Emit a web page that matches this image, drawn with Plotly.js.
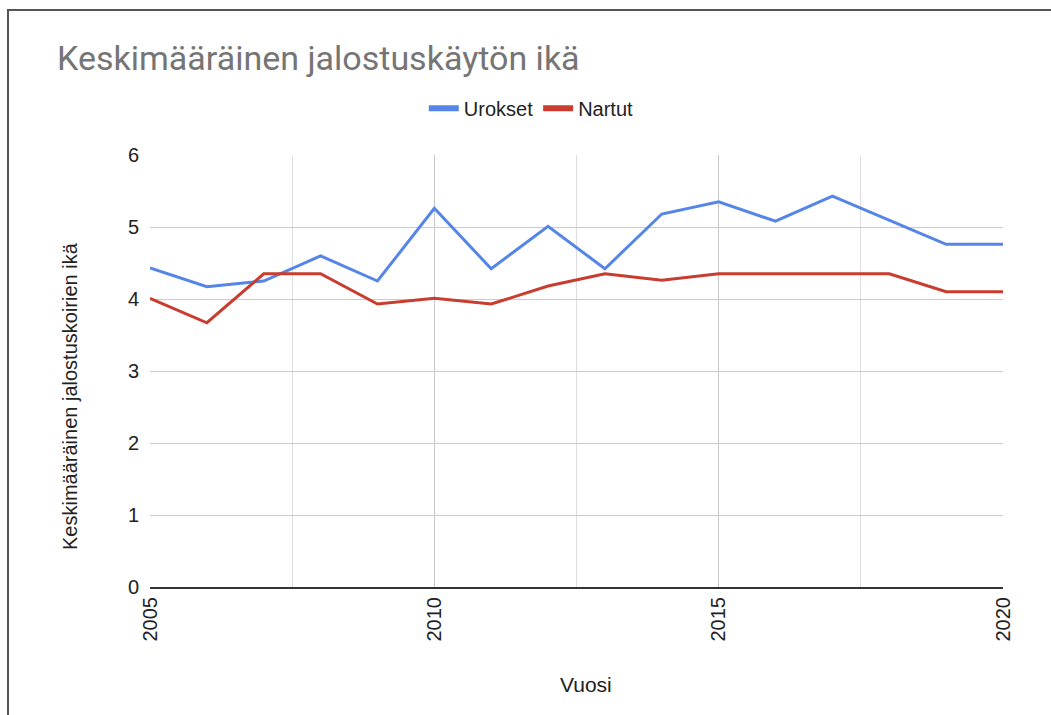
<!DOCTYPE html>
<html>
<head>
<meta charset="utf-8">
<script src="https://cdn.plot.ly/plotly-3.0.1.min.js"></script>
<style>
html,body{margin:0;padding:0;background:#fff;}
#frame{position:absolute;left:7px;top:9px;width:1044px;height:706px;border-left:2px solid #555;border-top:2px solid #555;box-sizing:border-box;}
#chart{position:absolute;left:0;top:0;width:1051px;height:715px;}
</style>
</head>
<body>
<div id="frame"></div>
<div id="chart"></div>
<script>
const years = [2005,2006,2007,2008,2009,2010,2011,2012,2013,2014,2015,2016,2017,2018,2019,2020];
const urokset = [4.43,4.17,4.25,4.6,4.25,5.26,4.42,5.01,4.42,5.18,5.35,5.08,5.43,5.1,4.76,4.76];
const nartut = [4.01,3.67,4.35,4.35,3.93,4.01,3.93,4.18,4.35,4.26,4.35,4.35,4.35,4.35,4.1,4.1];
const seriesNames = ['Urokset','Nartut'];
const seriesColors = ['#5585e8','#c83d2f'];
const chartTitle = 'Keskimääräinen jalostuskäytön ikä';
const xTitle = 'Vuosi';
const yTitle = 'Keskimääräinen jalostuskoirien ikä';

const traces = [
  {x: years, y: urokset, name: seriesNames[0], type: 'scatter', mode: 'lines', showlegend: false,
   line: {color: seriesColors[0], width: 3}},
  {x: years, y: nartut, name: seriesNames[1], type: 'scatter', mode: 'lines', showlegend: false,
   line: {color: seriesColors[1], width: 3}},
  {x: [null], y: [null], name: seriesNames[0], type: 'scatter', mode: 'lines', showlegend: true,
   line: {color: seriesColors[0], width: 6}},
  {x: [null], y: [null], name: seriesNames[1], type: 'scatter', mode: 'lines', showlegend: true,
   line: {color: seriesColors[1], width: 6}}
];

const layout = {
  width: 1051, height: 715,
  paper_bgcolor: 'rgba(0,0,0,0)', plot_bgcolor: 'rgba(0,0,0,0)',
  margin: {l: 150, r: 48, t: 155, b: 128},
  font: {family: 'Arial, Liberation Sans, sans-serif', color: '#222', size: 20},
  title: {text: chartTitle, x: 57/1051, xanchor: 'left', y: 1 - 58/715, yanchor: 'middle',
          font: {family: 'Roboto, sans-serif', size: 34, color: '#757575'}},
  showlegend: true,
  legend: {orientation: 'h', x: 0.447, xanchor: 'center', y: 1.108, yanchor: 'middle',
           font: {size: 20, color: '#222', family: 'Arial, sans-serif'}, itemwidth: 30, traceorder: 'normal'},
  xaxis: {range: [2005, 2020], dtick: 5, tick0: 2005, tickangle: -90,
          showgrid: true, gridcolor: '#c8c8c8', gridwidth: 1,
          minor: {dtick: 2.5, tick0: 2005, showgrid: true, gridcolor: '#dddddd', gridwidth: 1},
          zeroline: false, showline: true, linecolor: '#333', linewidth: 2,
          ticks: '', tickfont: {size: 20, color: '#222'}},
  yaxis: {range: [0, 6], dtick: 1, showgrid: true, gridcolor: '#cccccc', gridwidth: 1,
          zeroline: false, showline: false, ticks: '', ticklabelstandoff: 10,
          tickfont: {size: 20, color: '#222'}},
  annotations: [
    {text: yTitle, xref: 'paper', yref: 'paper', x: (70-150)/853, y: (587-396)/432,
     xanchor: 'center', yanchor: 'middle', textangle: -90, showarrow: false,
     font: {size: 20, color: '#222', family: 'Arial, sans-serif'}},
    {text: xTitle, xref: 'paper', yref: 'paper', x: (586-150)/853, y: (587-684)/432,
     xanchor: 'center', yanchor: 'middle', showarrow: false,
     font: {size: 21, color: '#222', family: 'Arial, sans-serif'}}
  ]
};

Plotly.newPlot('chart', traces, layout, {displayModeBar: false, staticPlot: true});
</script>
</body>
</html>
